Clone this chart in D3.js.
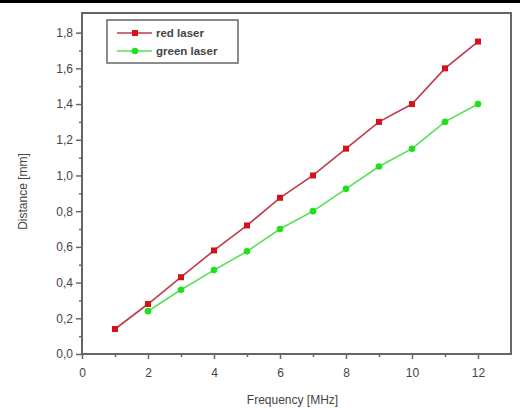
<!DOCTYPE html>
<html>
<head>
<meta charset="utf-8">
<script src="https://cdn.jsdelivr.net/npm/d3@7"></script>
<style>
  body { margin: 0; background: #fff; }
  svg text { font-family: "Liberation Sans", Arial, sans-serif; fill: #444; }
</style>
</head>
<body>
<div id="chart"></div>
<script>
// data
const freq = [1, 2, 3, 4, 5, 6, 7, 8, 9, 10, 11, 12];
const redLaser = [0.14, 0.28, 0.43, 0.58, 0.72, 0.875, 1.0, 1.15, 1.3, 1.4, 1.6, 1.75];
const greenFreq = [2, 3, 4, 5, 6, 7, 8, 9, 10, 11, 12];
const greenLaser = [0.24, 0.36, 0.47, 0.575, 0.70, 0.80, 0.925, 1.05, 1.15, 1.3, 1.4];
const xTicks = [0, 2, 4, 6, 8, 10, 12];
const yTicks = [0, 0.2, 0.4, 0.6, 0.8, 1.0, 1.2, 1.4, 1.6, 1.8];

const W = 520, H = 408;
const svg = d3.select("#chart").append("svg")
    .attr("width", W)
    .attr("height", H);

// black bar across the top
svg.append("rect")
    .attr("x", 0).attr("y", 0)
    .attr("width", W).attr("height", 3)
    .attr("fill", "#000");

const plotL = 82, plotR = 511, plotT = 13, plotB = 354;

const x = d3.scaleLinear().domain([0, 13]).range([plotL, plotR]);
const y = d3.scaleLinear().domain([0, 1.91]).range([plotB, plotT]);

const frameCol = "#666";
const textCol = "#3c3c3c";
const fmt = d => d3.format(".1f")(d).replace(".", ",");

// frame
svg.append("rect")
    .attr("x", plotL).attr("y", plotT)
    .attr("width", plotR - plotL).attr("height", plotB - plotT)
    .attr("fill", "none")
    .attr("stroke", frameCol)
    .attr("stroke-width", 2);

// axes
svg.append("g")
    .attr("transform", "translate(0," + plotB + ")")
    .call(d3.axisBottom(x).tickValues(xTicks).tickSize(5).tickPadding(9).tickFormat(d3.format("d")));
svg.append("g")
    .attr("transform", "translate(0," + plotB + ")")
    .call(d3.axisBottom(x).tickValues(d3.range(1, 13, 2)).tickSize(3).tickFormat(""));

svg.append("g")
    .attr("transform", "translate(" + plotL + ",0)")
    .call(d3.axisLeft(y).tickValues(yTicks).tickSize(6).tickPadding(3).tickFormat(fmt));
svg.append("g")
    .attr("transform", "translate(" + plotL + ",0)")
    .call(d3.axisLeft(y).tickValues(d3.range(0.1, 1.9, 0.2)).tickSize(3).tickFormat(""));

svg.selectAll(".domain").remove();
svg.selectAll(".tick line").attr("stroke", frameCol).attr("stroke-width", 1.5);
svg.selectAll(".tick text").attr("font-size", 12).attr("fill", textCol);

// axis titles
svg.append("text")
    .attr("x", (plotL + plotR) / 2 - 4)
    .attr("y", 404)
    .attr("text-anchor", "middle")
    .attr("font-size", 12)
    .attr("fill", textCol)
    .text("Frequency [MHz]");

svg.append("text")
    .attr("transform", "translate(27," + ((plotT + plotB) / 2 + 8) + ") rotate(-90)")
    .attr("text-anchor", "middle")
    .attr("font-size", 12)
    .attr("fill", textCol)
    .text("Distance [mm]");

// series
const series = [
    { name: "red laser", color: "#d8101c", line: "#c23a4a", xs: freq, ys: redLaser },
    { name: "green laser", color: "#1ee01e", line: "#55e055", xs: greenFreq, ys: greenLaser }
];

const line = d3.line().x(d => x(d[0])).y(d => y(d[1]));

series.forEach(s => {
    const pts = s.xs.map((f, i) => [f, s.ys[i]]);
    svg.append("path")
        .attr("d", line(pts))
        .attr("fill", "none")
        .attr("stroke", s.line)
        .attr("stroke-width", 1.6);
    if (s.name === "red laser") {
        svg.selectAll(null).data(pts).enter().append("rect")
            .attr("x", d => x(d[0]) - 3)
            .attr("y", d => y(d[1]) - 3)
            .attr("width", 6).attr("height", 6)
            .attr("fill", s.color);
    } else {
        svg.selectAll(null).data(pts).enter().append("circle")
            .attr("cx", d => x(d[0]))
            .attr("cy", d => y(d[1]))
            .attr("r", 3.3)
            .attr("fill", s.color);
    }
});

// legend
const lg = svg.append("g");
lg.append("rect")
    .attr("x", 107).attr("y", 20)
    .attr("width", 131).attr("height", 43)
    .attr("fill", "#fff")
    .attr("stroke", frameCol)
    .attr("stroke-width", 1.5);

series.forEach((s, i) => {
    const ly = 33 + i * 18;
    lg.append("line")
        .attr("x1", 117).attr("x2", 152)
        .attr("y1", ly).attr("y2", ly)
        .attr("stroke", s.line)
        .attr("stroke-width", 1.6);
    if (i === 0) {
        lg.append("rect")
            .attr("x", 132).attr("y", ly - 3)
            .attr("width", 6).attr("height", 6)
            .attr("fill", s.color);
    } else {
        lg.append("circle")
            .attr("cx", 135).attr("cy", ly)
            .attr("r", 3.3)
            .attr("fill", s.color);
    }
    lg.append("text")
        .attr("x", 156).attr("y", ly + 4)
        .attr("font-size", 11.5)
        .attr("font-weight", "bold")
        .attr("fill", textCol)
        .text(s.name);
});
</script>
</body>
</html>
